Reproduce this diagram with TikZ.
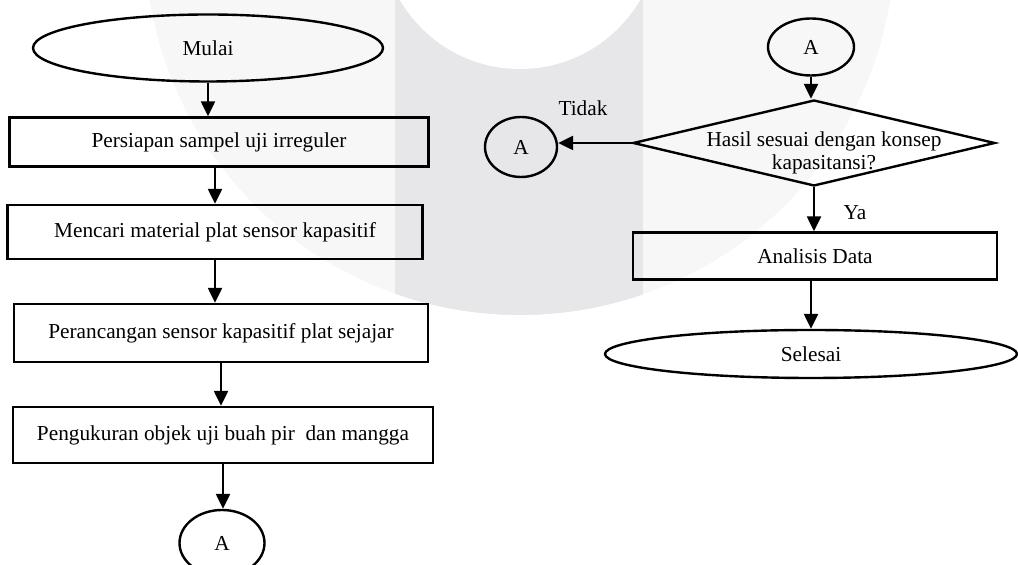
\documentclass[tikz,border=0pt]{standalone}
\usepackage{fontspec}
\setmainfont{Liberation Serif}
\usepackage{tikz}
\usetikzlibrary{shapes.geometric,arrows.meta,positioning,calc}
\definecolor{wmfaint}{RGB}{247, 247, 247}
\definecolor{wmgray}{RGB}{231, 231, 234}

\begin{document}
\begin{tikzpicture}[x=0.5pt, y=-0.5pt,
  font=\fontsize{10.65pt}{11.5pt}\selectfont,
  block/.style={draw, rectangle, line width=1.2pt, inner sep=2pt, align=center},
  term/.style={draw, ellipse, line width=1.2pt, inner sep=0pt},
  decision/.style={draw, diamond, line width=1.2pt, inner sep=0pt, minimum width=181pt, minimum height=43pt},
  line/.style={draw, line width=1.2pt, -{Triangle[width=7pt,length=7.5pt]}}
]
  \useasboundingbox (0,0) rectangle (1018,565);

  % Watermark
  \begin{scope}
    \clip (520,-60) circle [radius=187.5pt];
    \fill [wmfaint] (0,0) rectangle (1018,565);
    \fill [wmgray] (395,0) rectangle (643,565);
  \end{scope}
  \fill [white] (520,-70) circle [radius=69.5pt];

  % Left column
  \node [term, minimum width=175pt, minimum height=33.5pt] (start) at (208,48) {Mulai};
  \node [block, minimum width=209.5pt, minimum height=24.5pt] (prep) at (219,142) {Persiapan sampel uji irreguler};
  \node [block, minimum width=207.5pt, minimum height=27pt] (material) at (215,232) {Mencari material plat sensor kapasitif};
  \node [block, minimum width=207pt, minimum height=29pt] (design) at (221,333) {Perancangan sensor kapasitif plat sejajar};
  \node [block, minimum width=210pt, minimum height=28pt] (measure) at (223,435) {Pengukuran objek uji buah pir\ \ dan mangga};
  \node [term, minimum width=42.5pt, minimum height=33pt] (connA) at (222,543) {A};

  % Right column
  \node [term, minimum width=43pt, minimum height=28.5pt] (connB) at (811,47) {A};
  \node [decision] (check) at (814,143) {};
  \node [align=center] (checktext) at (824,153) {Hasil sesuai dengan konsep\\kapasitansi?};
  \node [term, minimum width=36pt, minimum height=30pt] (connC) at (521,147) {A};
  \node (no) at (583,108) {Tidak};
  \node [block, minimum width=182pt, minimum height=23.5pt] (analysis) at (815,256) {Analisis Data};
  \node (yes) at (855,213) {Ya};
  \node [term, minimum width=206pt, minimum height=24pt] (stop) at (811,354) {Selesai};

  % Flow Connections
  \draw [line] (start) -- (start |- prep.north);
  \draw [line] (prep.south -| material) -- (material);
  \draw [line] (material) -- (material |- design.north);
  \draw [line] (design) -- (design |- measure.north);
  \draw [line] (measure) -- (measure |- connA.north);

  \draw [line] (connB) -- (connB |- check.north);
  \draw [line] (check.west) -- (check.west -| connC.east);
  \draw [line] (check.south) -- (check.south |- analysis.north);
  \draw [line] (analysis.south -| stop) -- (stop);

\end{tikzpicture}
\end{document}
